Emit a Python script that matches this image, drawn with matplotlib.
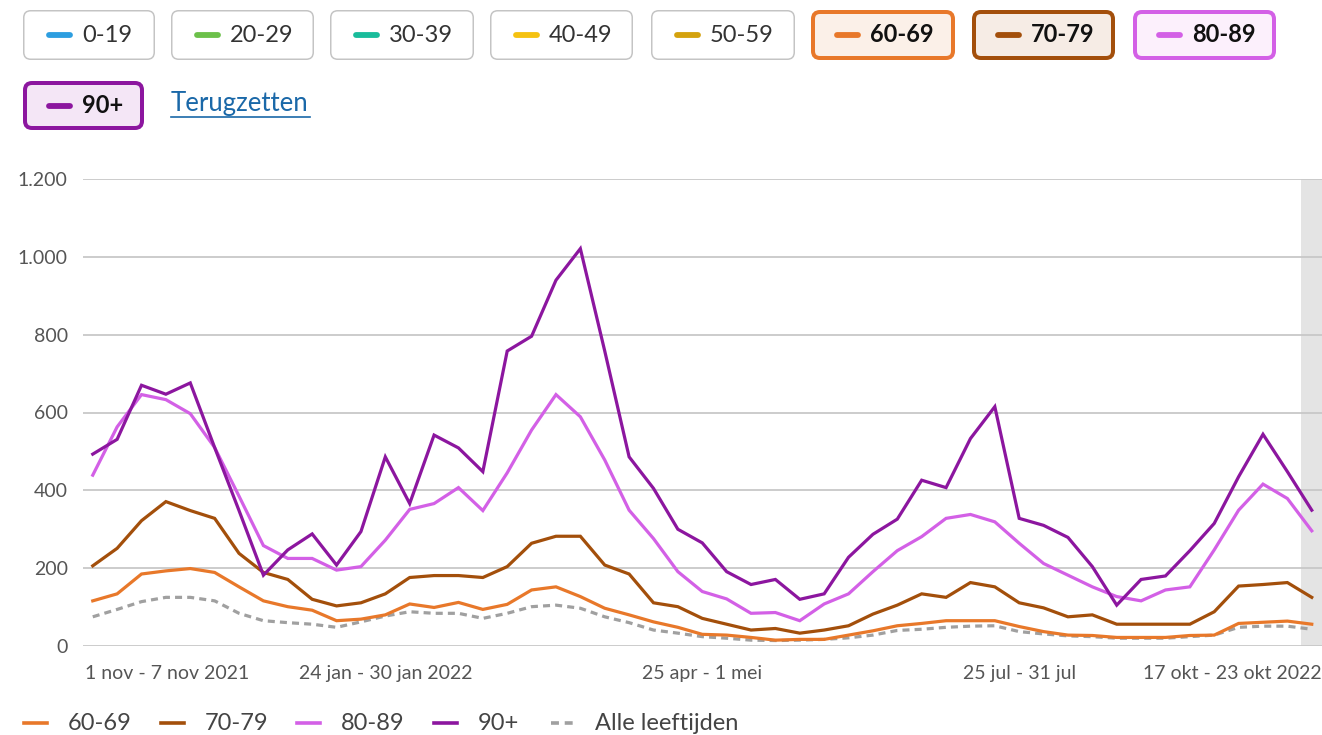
import numpy as np
import matplotlib
matplotlib.use("Agg")
import matplotlib.pyplot as plt
from matplotlib.patches import FancyBboxPatch
from matplotlib.lines import Line2D
from matplotlib.transforms import IdentityTransform, ScaledTranslation

plt.rcParams['font.family'] = ['Lato', 'DejaVu Sans']

# weekly values, 1 nov 2021 .. 17 okt 2022 (51 weeks)
weeks = np.arange(51)
tick_pos = [0, 12, 25, 38, 50]
tick_labels = ["1 nov - 7 nov 2021", "24 jan - 30 jan 2022", "25 apr - 1 mei",
               "25 jul - 31 jul", "17 okt - 23 okt 2022"]

age_60_69 = [116, 134, 185, 193, 199, 189, 152, 116, 101, 92, 65, 69, 80, 108, 99, 112, 94,
             107, 144, 152, 127, 97, 80, 62, 48, 30, 28, 22, 15, 17, 17, 28, 39, 52,
             58, 65, 65, 65, 50, 37, 28, 27, 22, 22, 22, 27, 28, 58, 61, 64, 56]
age_70_79 = [206, 251, 322, 371, 348, 328, 238, 189, 171, 120, 103, 111, 134, 176, 181, 181, 176,
             204, 264, 282, 282, 208, 185, 111, 101, 71, 56, 41, 45, 33, 41, 52, 82, 105,
             134, 125, 163, 152, 111, 98, 75, 80, 56, 56, 56, 56, 88, 154, 158, 163, 125]
age_80_89 = [439, 563, 646, 633, 597, 510, 385, 258, 225, 225, 195, 204, 272, 351, 366, 407, 348,
             445, 555, 646, 589, 478, 349, 276, 191, 140, 121, 84, 86, 65, 108, 134, 191, 245,
             281, 328, 338, 319, 264, 212, 182, 152, 127, 116, 144, 152, 247, 349, 416, 379, 296]
age_90 = [493, 531, 670, 647, 676, 510, 348, 182, 247, 288, 208, 294, 486, 366, 542, 509, 448,
          758, 796, 940, 1021, 758, 486, 405, 300, 265, 191, 158, 171, 120, 134, 228, 287, 326,
          426, 407, 533, 615, 328, 310, 279, 204, 105, 171, 180, 245, 315, 435, 544, 448, 349]
all_ages = [75, 94, 114, 125, 125, 116, 84, 65, 60, 56, 48, 62, 77, 88, 84, 84, 71,
            84, 101, 105, 97, 75, 60, 41, 33, 24, 20, 15, 14, 15, 17, 21, 28, 40,
            43, 48, 51, 52, 37, 31, 26, 24, 20, 20, 20, 24, 28, 48, 51, 51, 43]

series_names = ["60-69", "70-79", "80-89", "90+"]
series_vals = [age_60_69, age_70_79, age_80_89, age_90]
series_colors = ["#e8782a", "#a34f0b", "#d360e6", "#8c169f"]
all_color = "#a0a0a0"

buttons = ["0-19", "20-29", "30-39", "40-49", "50-59", "60-69", "70-79", "80-89", "90+"]
button_colors = ["#2d9ee0", "#6cc04a", "#19bc9b", "#f5c211", "#d4a20e",
                 "#e8782a", "#a34f0b", "#d360e6", "#8c169f"]
button_fill = [None, None, None, None, None, "#fbf0e8", "#f6ece5", "#fcf0fc", "#f4e6f6"]

W, H = 1322, 735
fig = plt.figure(figsize=(W / 100, H / 100), dpi=100)
ax = fig.add_axes([83 / W, 1 - 646 / H, (W - 83) / W, (646 - 179) / H])

ax.axvspan(49.55, 50.42, color="#e4e4e4", zorder=0, lw=0)
for v, name, col in zip(series_vals, series_names, series_colors):
    ax.plot(weeks, v, color=col, lw=2.3, zorder=3, solid_joinstyle='miter')
ax.plot(weeks, all_ages, color=all_color, lw=2.3, ls=(0, (2.2, 1.6)), zorder=2)

ax.set_xlim(-0.4, 50.42)
ax.set_ylim(0, 1200)
ax.set_yticks(np.arange(0, 1201, 200))
ax.set_yticklabels(["0", "200", "400", "600", "800", "1.000", "1.200"])
ax.grid(axis='y', color="#c8c8c8", lw=1.3, zorder=1)
ax.set_axisbelow(False)
for s in ax.spines.values():
    s.set_visible(False)
ax.tick_params(axis='both', length=0, labelsize=14, labelcolor="#555555")
ax.tick_params(axis='y', pad=11)
ax.tick_params(axis='x', pad=14)
ax.set_xticks(tick_pos)
ax.set_xticklabels(tick_labels)
xl = ax.get_xticklabels()
xl[0].set_ha('left')
xl[0].set_transform(xl[0].get_transform() + ScaledTranslation(-8 / 100, 0, fig.dpi_scale_trans))
xl[-1].set_ha('right')
xl[-1].set_transform(xl[-1].get_transform() + ScaledTranslation(10 / 100, 0, fig.dpi_scale_trans))

# filter buttons on top
idt = IdentityTransform()
btn_x = [(23, 155), (171, 314), (330, 474), (490, 633), (651, 795),
         (811, 955), (972, 1115), (1133, 1276), (23, 144)]
btn_y = [(10, 60)] * 8 + [(81, 130)]
for lab, col, fill, (x0, x1), (y0, y1) in zip(buttons, button_colors, button_fill, btn_x, btn_y):
    sel = fill is not None
    lw = 4 if sel else 1.5
    box = FancyBboxPatch((x0 + lw / 2, H - y1 + lw / 2), x1 - x0 - lw, y1 - y0 - lw,
                         boxstyle="round,pad=0,rounding_size=7",
                         fc=fill if sel else "white", ec=col if sel else "#c4c4c4",
                         lw=lw * 0.72, transform=idt)
    fig.add_artist(box)
    yc = H - (y0 + y1) / 2
    fig.add_artist(Line2D([x0 + 26, x0 + 47], [yc, yc], color=col, lw=4.2,
                          solid_capstyle='round', transform=idt))
    fig.text((x0 + 59) / W, yc / H, lab, fontsize=17, va='center', ha='left',
             color="#111111" if sel else "#333333", weight='bold' if sel else 'normal')

t = fig.text(171 / W, 1 - 103 / H, "Terugzetten", fontsize=18.5, va='center', ha='left',
             color="#1a68a8")
fig.add_artist(Line2D([171, 310], [H - 117, H - 117], color="#1a68a8", lw=1.2, transform=idt))

# legend at the bottom
leg_x = [24, 161, 297, 434, 551]
leg_names = series_names + ["Alle leeftijden"]
leg_cols = series_colors + [all_color]
yl = H - 723
for i, (x, name, col) in enumerate(zip(leg_x, leg_names, leg_cols)):
    ls = (0, (2.2, 1.6)) if i == 4 else '-'
    fig.add_artist(Line2D([x, x + 23], [yl, yl], color=col, lw=2.6, ls=ls, transform=idt))
    fig.text((x + 44) / W, yl / H, name, fontsize=17, va='center', ha='left', color="#444444")

fig.savefig("out.png", dpi=100)
